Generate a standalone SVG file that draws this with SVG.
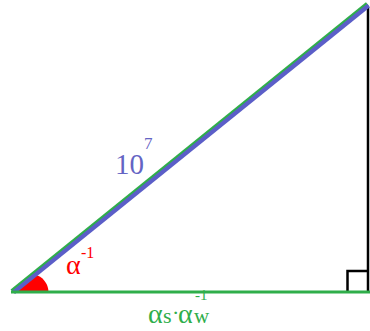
<svg xmlns="http://www.w3.org/2000/svg" width="370" height="331" viewBox="0 0 370 331">
<style>
.lbl{font-family:"Liberation Serif","Times New Roman",serif}
.red{fill:#ff0000}
.grn{fill:#2fae4a}
.blu{fill:#6464c4}
</style>
<rect width="370" height="331" fill="#ffffff"/>
<path d="M13 292 L34.6 274.6 A18 18 0 0 1 48.5 292 Z" fill="#ff0000"/>
<line x1="368" y1="7" x2="368" y2="292" stroke="#000000" stroke-width="2.5"/>
<path d="M347.5 292 V271 H368" fill="none" stroke="#000000" stroke-width="2.5"/>
<line x1="12" y1="291.2" x2="367.4" y2="4" stroke="#2fae4a" stroke-width="4.6"/>
<line x1="13.6" y1="292.3" x2="368.6" y2="5.5" stroke="#5b5ec8" stroke-width="4.2"/>
<line x1="11" y1="292" x2="370" y2="292" stroke="#2fae4a" stroke-width="3"/>
<text class="lbl blu" x="115" y="174" font-size="29">10</text>
<text class="lbl blu" x="144" y="149" font-size="17">7</text>
<text class="lbl red" x="66" y="274" font-size="28">α</text>
<text class="lbl red" x="81" y="258" font-size="16">-1</text>
<text class="lbl grn" x="148" y="323" font-size="28">α</text>
<text class="lbl grn" x="163" y="323" font-size="22">s</text>
<text class="lbl grn" x="172" y="320" font-size="22">·</text>
<text class="lbl grn" x="178" y="323" font-size="28">α</text>
<text class="lbl grn" x="194" y="323" font-size="21">w</text>
<text class="lbl grn" x="195" y="300" font-size="15">-1</text>
</svg>
